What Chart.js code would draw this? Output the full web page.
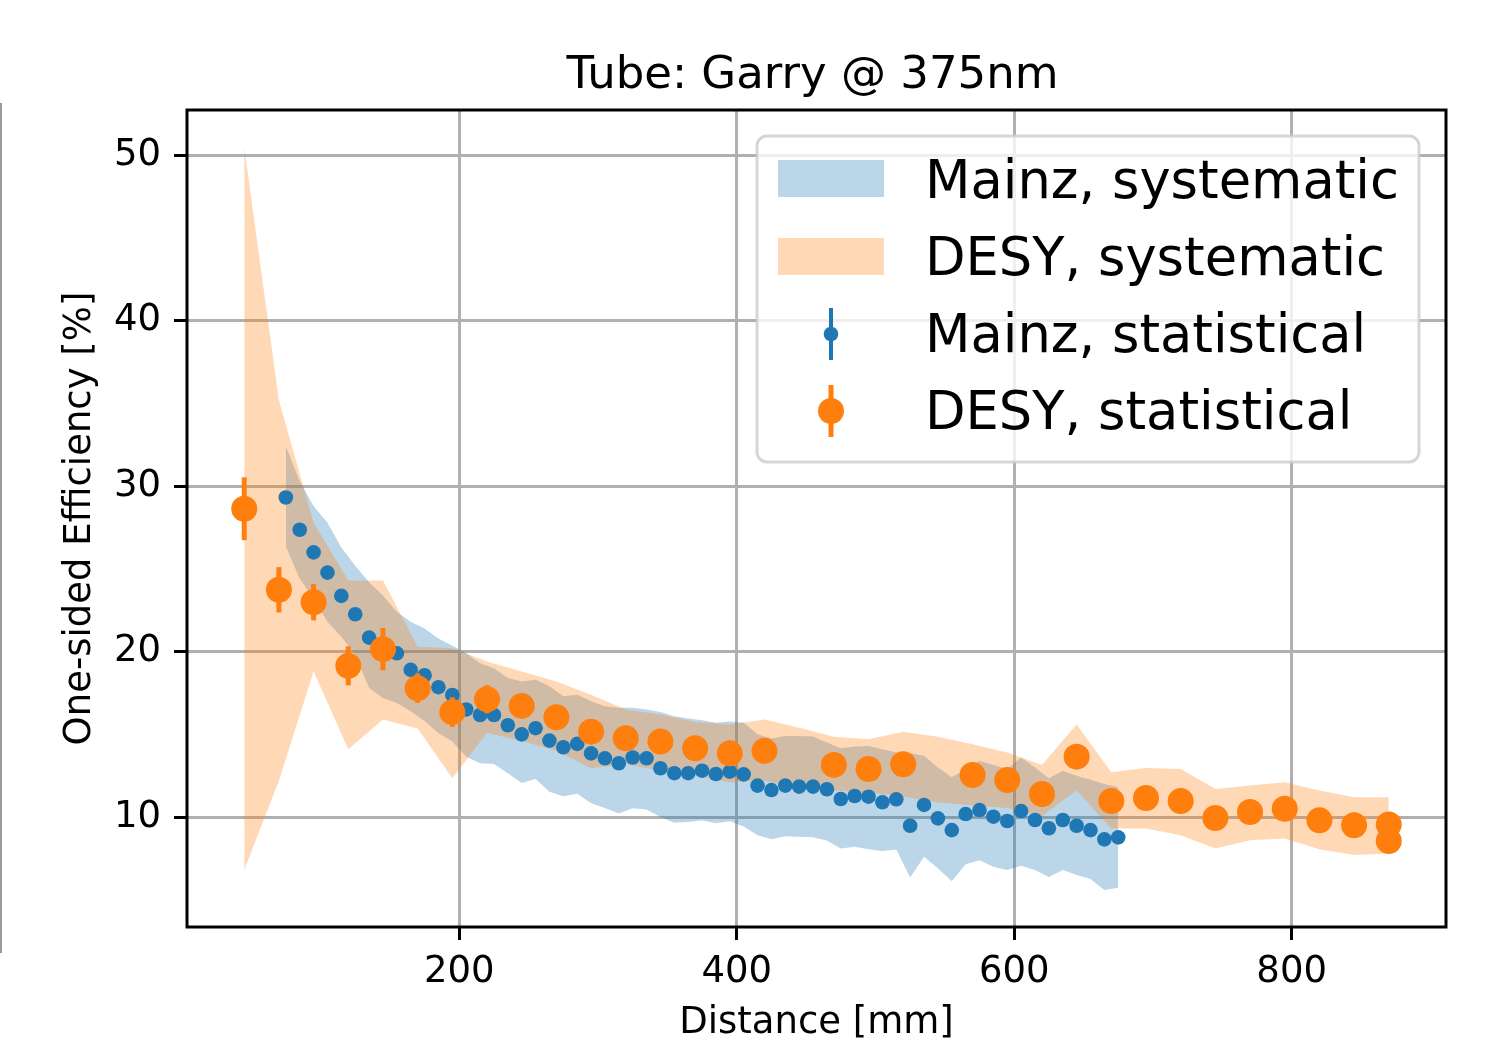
<!DOCTYPE html>
<html>
<head>
<meta charset="utf-8">
<script src="https://cdn.jsdelivr.net/npm/chart.js@4.4.1/dist/chart.umd.min.js"></script>
<style>
  html, body { margin: 0; padding: 0; background: #fff; }
  #wrap { position: relative; width: 1496px; height: 1042px; }
  #edge { position: absolute; left: 0; top: 103px; width: 2px; height: 850px; background: #9a9a9a; }
</style>
</head>
<body>
<div id="wrap">
  <canvas id="eff" width="1496" height="1042"></canvas>
  <div id="edge"></div>
</div>
<script>
// Mainz scan, 10 mm steps
const mainzX = [75, 85, 95, 105, 115, 125, 135, 145, 155, 165,
  175, 185, 195, 205, 215, 225, 235, 245, 255, 265,
  275, 285, 295, 305, 315, 325, 335, 345, 355, 365,
  375, 385, 395, 405, 415, 425, 435, 445, 455, 465,
  475, 485, 495, 505, 515, 525, 535, 545, 555, 565,
  575, 585, 595, 605, 615, 625, 635, 645, 655, 665, 675];
const mainzEff = [29.32, 27.37, 26.0, 24.78, 23.37, 22.26, 20.85, 20.4, 19.9, 18.9,
  18.57, 17.85, 17.38, 16.5, 16.17, 16.17, 15.55, 15.0, 15.37, 14.62,
  14.22, 14.42, 13.85, 13.55, 13.25, 13.6, 13.55, 12.95, 12.65, 12.65,
  12.8, 12.6, 12.74, 12.58, 11.9, 11.63, 11.9, 11.84, 11.84, 11.68,
  11.09, 11.27, 11.23, 10.89, 11.07, 9.47, 10.73, 9.92, 9.21, 10.18,
  10.42, 10.02, 9.76, 10.36, 9.82, 9.32, 9.82, 9.47, 9.21, 8.65, 8.77];
const mainzSysHi = [32.4, 30.3, 28.8, 27.8, 26.3, 25.2, 24.2, 23.4, 22.4, 21.8,
  21.4, 20.8, 20.35, 19.9, 19.3, 19.0, 18.4, 18.2, 18.3, 17.9,
  17.3, 17.4, 17.0, 16.7, 16.6, 16.6, 16.5, 16.35, 16.1, 15.95,
  15.85, 15.7, 15.77, 15.7, 15.0, 14.75, 14.9, 14.9, 14.87, 14.5,
  14.16, 14.26, 14.3, 14.1, 13.9, 13.85, 13.7, 13.0, 12.4, 12.9,
  13.4, 13.15, 12.9, 13.6, 13.0, 12.34, 12.8, 12.5, 12.25, 12.0, 11.8];
const mainzSysLo = [26.36, 24.4, 23.2, 21.8, 20.9, 19.8, 17.8, 17.2, 16.9, 16.4,
  15.8, 15.06, 14.56, 13.65, 13.25, 13.2, 12.64, 12.05, 12.3, 11.53,
  11.25, 11.4, 10.83, 10.55, 10.22, 10.53, 10.45, 10.0, 9.66, 9.7,
  9.8, 9.62, 9.75, 9.42, 8.9, 8.65, 8.83, 8.8, 8.78, 8.58,
  8.1, 8.2, 8.05, 7.94, 8.04, 6.35, 7.6, 6.9, 6.12, 7.15,
  7.38, 7.0, 6.8, 7.05, 6.8, 6.38, 6.8, 6.5, 6.25, 5.58, 5.72];

// DESY scan, 25 mm steps (no point at 445 / 545, two at 870)
const desyX = [45, 70, 95, 120, 145, 170, 195, 220, 245, 270,
  295, 320, 345, 370, 395, 420, 445, 470, 495, 520,
  545, 570, 595, 620, 645, 670, 695, 720, 745, 770,
  795, 820, 845, 870, 870];
const desyEff = [28.64, 23.74, 22.99, 19.14, 20.15, 17.79, 16.34, 17.12, 16.72, 16.03,
  15.16, 14.76, 14.56, 14.16, 13.85, 14.0, null, 13.15, 12.9, 13.19,
  null, 12.54, 12.24, 11.39, 13.65, 10.97, 11.15, 10.97, 9.94, 10.3,
  10.5, 9.8, 9.5, 9.55, 8.55];
const desyStat = [1.9, 1.37, 1.1, 1.18, 1.28, 0.89, 0.89, 0.85, 0.7, 0.65,
  0.6, 0.6, 0.6, 0.55, 0.55, 0.6, 0, 0.55, 0.5, 0.55,
  0, 0.5, 0.5, 0.5, 0.6, 0.45, 0.45, 0.45, 0.45, 0.45,
  0.45, 0.45, 0.45, 0.45, 0.45];
const desySysHi = [50.5, 35.2, 27.8, 24.3, 24.3, 20.3, 20.2, 19.4, 18.8, 18.2,
  17.4, 16.5, 16.2, 15.75, 15.6, 15.9, 15.4, 14.85, 14.7, 15.15,
  14.85, 14.4, 13.9, 13.15, 15.6, 12.7, 12.97, 12.9, 11.7, 11.9,
  12.1, 11.6, 11.2, 11.2, 11.2];
const desySysLo = [6.8, 12.2, 18.8, 14.1, 15.9, 15.35, 12.35, 15.1, 14.6, 14.0,
  12.95, 13.2, 12.8, 12.5, 12.1, 12.2, 11.75, 11.6, 11.5, 11.23,
  10.9, 10.7, 10.55, 10.05, 11.6, 9.3, 9.3, 8.9, 8.1, 8.6,
  8.7, 8.05, 7.7, 7.8, 7.8];

const xTicks = [200, 400, 600, 800];
const yTicks = [10, 20, 30, 40, 50];

const FONT = "'DejaVu Sans', sans-serif";
const C0 = '#1f77b4', C1 = '#ff7f0e';
const C0_FILL = 'rgba(31,119,180,0.3)', C1_FILL = 'rgba(255,127,14,0.3)';
const NONE = 'rgba(0,0,0,0)';

const pts = (xs, ys) => xs.map((x, i) => ({ x, y: ys[i] }));

// vertical stat error bars under the DESY markers
const errorBars = {
  id: 'errorBars',
  beforeDatasetDraw(chart, args) {
    if (args.index !== 0) return;
    const { ctx, scales: { x, y } } = chart;
    ctx.save();
    ctx.strokeStyle = C1;
    ctx.lineWidth = 5;
    desyX.forEach((d, i) => {
      if (desyEff[i] == null || !desyStat[i]) return;
      const px = x.getPixelForValue(d);
      ctx.beginPath();
      ctx.moveTo(px, y.getPixelForValue(desyEff[i] - desyStat[i]));
      ctx.lineTo(px, y.getPixelForValue(desyEff[i] + desyStat[i]));
      ctx.stroke();
    });
    ctx.restore();
  }
};

function roundRect(ctx, x, y, w, h, r) {
  ctx.beginPath();
  ctx.moveTo(x + r, y);
  ctx.arcTo(x + w, y, x + w, y + h, r);
  ctx.arcTo(x + w, y + h, x, y + h, r);
  ctx.arcTo(x, y + h, x, y, r);
  ctx.arcTo(x, y, x + w, y, r);
  ctx.closePath();
}

// frame, title and the legend box
const decor = {
  id: 'decor',
  afterDatasetsDraw(chart) {
    const { ctx, chartArea: a } = chart;
    ctx.save();
    ctx.strokeStyle = '#000';
    ctx.lineWidth = 3;
    ctx.strokeRect(a.left, a.top, a.right - a.left, a.bottom - a.top);
    ctx.fillStyle = '#000';
    ctx.font = `45px ${FONT}`;
    ctx.textAlign = 'center';
    ctx.textBaseline = 'alphabetic';
    ctx.fillText('Tube: Garry @ 375nm', (a.left + a.right) / 2 - 4, a.top - 22);
    ctx.restore();
  },
  afterDraw(chart) {
    const { ctx, chartArea: a } = chart;
    const bw = 662, bh = 326;
    const bx = a.right - 27 - bw, by = a.top + 26;
    ctx.save();
    roundRect(ctx, bx, by, bw, bh, 10);
    ctx.fillStyle = 'rgba(255,255,255,0.8)';
    ctx.fill();
    ctx.strokeStyle = 'rgba(204,204,204,0.8)';
    ctx.lineWidth = 3;
    ctx.stroke();

    ctx.fillStyle = C0_FILL;
    ctx.fillRect(bx + 21, by + 24, 106, 37);
    ctx.fillStyle = C1_FILL;
    ctx.fillRect(bx + 21, by + 102, 106, 37);

    const mx = bx + 74;
    ctx.strokeStyle = C0; ctx.lineWidth = 4;
    ctx.beginPath(); ctx.moveTo(mx, by + 172); ctx.lineTo(mx, by + 224); ctx.stroke();
    ctx.fillStyle = C0;
    ctx.beginPath(); ctx.arc(mx, by + 198, 7.3, 0, Math.PI * 2); ctx.fill();
    ctx.strokeStyle = C1; ctx.lineWidth = 5;
    ctx.beginPath(); ctx.moveTo(mx, by + 249); ctx.lineTo(mx, by + 301); ctx.stroke();
    ctx.fillStyle = C1;
    ctx.beginPath(); ctx.arc(mx, by + 275, 13, 0, Math.PI * 2); ctx.fill();

    ctx.fillStyle = '#000';
    ctx.font = `52.7px ${FONT}`;
    ctx.textAlign = 'left';
    ctx.textBaseline = 'alphabetic';
    const labels = ['Mainz, systematic', 'DESY, systematic', 'Mainz, statistical', 'DESY, statistical'];
    labels.forEach((t, i) => ctx.fillText(t, bx + 168, by + 62 + i * 77));
    ctx.restore();
  }
};

const tickFont = { family: FONT, size: 37, lineHeight: 1.2 };

new Chart(document.getElementById('eff'), {
  type: 'line',
  data: {
    datasets: [
      { label: 'DESY, statistical', data: pts(desyX, desyEff), showLine: false,
        pointRadius: 13, pointBorderWidth: 0, pointBackgroundColor: C1, borderColor: C1, order: 0 },
      { label: 'Mainz, statistical', data: pts(mainzX, mainzEff), showLine: false,
        pointRadius: 7.3, pointBorderWidth: 0, pointBackgroundColor: C0, borderColor: C0, order: 1 },
      { label: 'DESY, systematic', data: pts(desyX, desySysHi), fill: '+1', backgroundColor: C1_FILL,
        borderColor: NONE, borderWidth: 0, pointRadius: 0, tension: 0, order: 2 },
      { label: 'desy lo', data: pts(desyX, desySysLo), fill: false,
        borderColor: NONE, borderWidth: 0, pointRadius: 0, tension: 0, order: 3 },
      { label: 'Mainz, systematic', data: pts(mainzX, mainzSysHi), fill: '+1', backgroundColor: C0_FILL,
        borderColor: NONE, borderWidth: 0, pointRadius: 0, tension: 0, order: 4 },
      { label: 'mainz lo', data: pts(mainzX, mainzSysLo), fill: false,
        borderColor: NONE, borderWidth: 0, pointRadius: 0, tension: 0, order: 5 }
    ]
  },
  options: {
    responsive: false,
    animation: false,
    devicePixelRatio: 1,
    events: [],
    layout: { padding: { top: 110, right: 50, left: 0, bottom: 0 } },
    plugins: { legend: { display: false }, tooltip: { enabled: false }, title: { display: false } },
    scales: {
      x: {
        type: 'linear', min: 3.75, max: 911.25,
        afterBuildTicks: s => { s.ticks = xTicks.map(v => ({ value: v })); },
        afterFit: s => { s.height = 115; },
        grid: { color: '#b0b0b0', lineWidth: 3, tickLength: 13, tickColor: '#000', tickWidth: 3 },
        border: { display: false },
        ticks: { font: tickFont, color: '#000', padding: 10, maxRotation: 0 },
        title: { display: true, text: 'Distance [mm]', color: '#000',
          font: { family: FONT, size: 37, lineHeight: 1.0 }, padding: { top: 0, bottom: 0 } }
      },
      y: {
        type: 'linear', min: 3.35, max: 52.75,
        afterBuildTicks: s => { s.ticks = yTicks.map(v => ({ value: v })); },
        afterFit: s => { s.width = 187; },
        grid: { color: '#b0b0b0', lineWidth: 3, tickLength: 13, tickColor: '#000', tickWidth: 3 },
        border: { display: false },
        ticks: { font: tickFont, color: '#000', padding: 13 },
        title: { display: true, text: 'One-sided Efficiency [%]', color: '#000',
          font: { family: FONT, size: 37, lineHeight: 1.2 }, padding: { top: 58, bottom: 0 } }
      }
    }
  },
  plugins: [errorBars, decor]
});
</script>
</body>
</html>
